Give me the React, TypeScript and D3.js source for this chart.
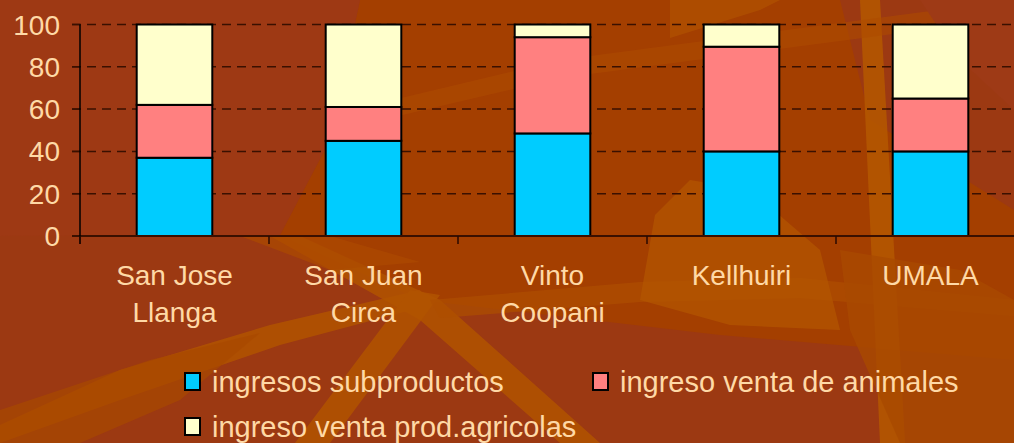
import React from "react";
import * as d3 from "d3";

const categories: string[][] = [
  ["San Jose", "Llanga"],
  ["San Juan", "Circa"],
  ["Vinto", "Coopani"],
  ["Kellhuiri"],
  ["UMALA"],
];
const categoryKeys = ["San Jose Llanga", "San Juan Circa", "Vinto Coopani", "Kellhuiri", "UMALA"];
const seriesNames = ["ingresos subproductos", "ingreso venta de animales", "ingreso venta prod.agricolas"];
const subproductos = [37, 45, 48.5, 40, 40];
const ventaAnimales = [25, 16, 45.5, 49.5, 25];
const prodAgricolas = [38, 39, 6, 10.5, 35];
const yTicks = [0, 20, 40, 60, 80, 100];

const colors = ["#00CCFF", "#FF8080", "#FFFFCC"];
const textColor = "#FFD9A6";
const font = "'Liberation Sans', Arial, sans-serif";

// decorative background streaks
const bgShapes: { pts: [number, number][]; fill: string; op: number }[] = [
  { pts: [[360, 0], [840, 0], [870, 120], [1014, 210], [1014, 360], [720, 335], [420, 300], [280, 235], [330, 140]], fill: "#A43F00", op: 1 },
  { pts: [[0, 425], [120, 370], [270, 325], [420, 290], [430, 305], [280, 345], [120, 400], [0, 443]], fill: "#B25300", op: 0.85 },
  { pts: [[0, 443], [0, 410], [150, 360], [260, 333], [180, 400], [80, 443]], fill: "#A84800", op: 0.7 },
  { pts: [[270, 236], [300, 236], [440, 300], [600, 443], [560, 443], [420, 320]], fill: "#B25300", op: 0.85 },
  { pts: [[410, 290], [440, 295], [330, 443], [295, 443]], fill: "#B25300", op: 0.85 },
  { pts: [[430, 300], [640, 282], [800, 278], [1014, 300], [1014, 316], [800, 298], [640, 302], [440, 318]], fill: "#AE4E00", op: 0.7 },
  { pts: [[640, 300], [655, 215], [690, 180], [750, 190], [820, 250], [840, 330], [730, 325]], fill: "#B35600", op: 0.75 },
  { pts: [[860, 0], [880, 0], [905, 443], [880, 443]], fill: "#B55800", op: 0.85 },
  { pts: [[840, 250], [960, 270], [1014, 300], [1014, 443], [900, 443], [850, 330]], fill: "#A94A00", op: 0.8 },
  { pts: [[330, 115], [560, 60], [1014, 0], [1014, 18], [560, 78], [330, 132]], fill: "#AE4B00", op: 0.6 },
  { pts: [[670, 0], [780, 0], [760, 10], [670, 38]], fill: "#B05200", op: 0.7 },
  { pts: [[240, 236], [330, 236], [420, 262], [330, 270]], fill: "#AC4A00", op: 0.7 },
  { pts: [[920, 0], [1014, 0], [1014, 110], [960, 60]], fill: "#9E3A16", op: 1 },
  { pts: [[0, 0], [360, 0], [330, 140], [280, 235], [0, 236]], fill: "#9E3914", op: 1 },
];

export default function App() {
  const W = 1014;
  const H = 443;
  const x = d3.scaleBand<string>().domain(categoryKeys).range([80, 1025]).paddingInner(0.6).paddingOuter(0.3);
  const y = d3.scaleLinear().domain([0, 100]).range([236, 24.5]);
  const series = [subproductos, ventaAnimales, prodAgricolas];
  const rows = categoryKeys.map((k, i) => ({ key: k, s0: series[0][i], s1: series[1][i], s2: series[2][i] }));
  const stack = d3.stack<any>().keys(["s0", "s1", "s2"])(rows);
  const step = x.step();
  const x0 = x.range()[0];
  const boundaries = d3.range(categoryKeys.length).map((i) => x0 + i * step);
  const line = d3.line();

  return (
    <svg width={W} height={H} style={{ position: "absolute", left: 0, top: 0, display: "block" }}>
      <rect x={0} y={0} width={W} height={H} fill="#9C3912" />
      {bgShapes.map((s, i) => (
        <path key={i} d={line(s.pts) + "Z"} fill={s.fill} opacity={s.op} />
      ))}
      {/* gridlines */}
      {yTicks.filter((t) => t > 0).map((t) => (
        <line key={t} x1={72} x2={W} y1={y(t)} y2={y(t)} stroke="#3A1000" strokeWidth={1.5} strokeDasharray="9 6" />
      ))}
      {/* y ticks */}
      {yTicks.map((t) => (
        <line key={"t" + t} x1={72} x2={80} y1={y(t)} y2={y(t)} stroke="#3A1000" strokeWidth={1.5} />
      ))}
      {yTicks.map((t) => (
        <text key={"l" + t} x={60} y={y(t) + 10} textAnchor="end" fontFamily={font} fontSize={28} fill={textColor}>
          {t}
        </text>
      ))}
      {/* bars */}
      {stack.map((layer, si) =>
        layer.map((d, i) => (
          <rect
            key={si + "-" + i}
            x={x(categoryKeys[i])!}
            y={y(d[1])}
            width={x.bandwidth()}
            height={y(d[0]) - y(d[1])}
            fill={colors[si]}
            stroke="#000"
            strokeWidth={2}
          />
        ))
      )}
      {/* axes */}
      <line x1={72} x2={W} y1={y(0)} y2={y(0)} stroke="#3A1000" strokeWidth={2} />
      <line x1={80} x2={80} y1={y(100)} y2={244} stroke="#000" strokeWidth={1.5} />
      {boundaries.map((b, i) => (
        <line key={"b" + i} x1={b} x2={b} y1={y(0)} y2={244} stroke="#2A0A00" strokeWidth={1.5} />
      ))}
      {/* category labels */}
      {categories.map((lines, i) => (
        <text key={"c" + i} fontFamily={font} fontSize={28} fill={textColor} textAnchor="middle">
          {lines.map((ln, j) => (
            <tspan key={j} x={x(categoryKeys[i])! + x.bandwidth() / 2} y={285 + j * 37}>
              {ln}
            </tspan>
          ))}
        </text>
      ))}
      {/* legend */}
      {seriesNames.map((name, i) => {
        const lx = i === 1 ? 593 : 185;
        const ly = i === 2 ? 418 : 373;
        return (
          <g key={"lg" + i}>
            <rect x={lx} y={ly} width={15} height={17} fill={colors[i]} stroke="#000" strokeWidth={2} />
            <text x={lx + 27} y={ly + 19} fontFamily={font} fontSize={29} fill={textColor}>
              {name}
            </text>
          </g>
        );
      })}
    </svg>
  );
}
